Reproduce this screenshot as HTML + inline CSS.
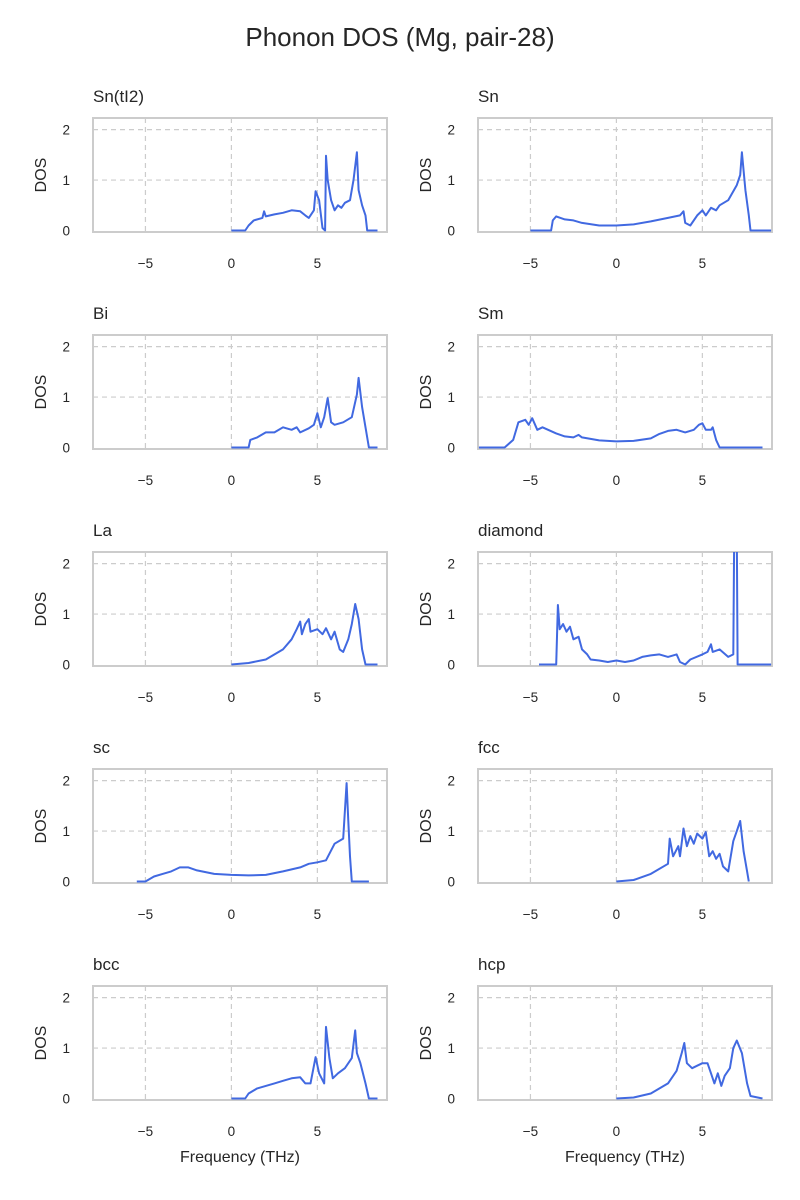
<!DOCTYPE html>
<html><head><meta charset="utf-8">
<style>
body{margin:0;background:#fff;}
svg{display:block;font-family:"Liberation Sans","DejaVu Sans",sans-serif;}
</style></head>
<body>
<svg id="fig" width="800" height="1200" viewBox="0 0 800 1200">
<text x="400" y="46" text-anchor="middle" font-size="26" fill="#262626">Phonon DOS (Mg, pair-28)</text>
</svg>
<script>
const panelNames = ["Sn(tI2)","Sn","Bi","Sm","La","diamond","sc","fcc","bcc","hcp"];
const xTicks = [-5,0,5];
const xTickLabels = ["\u22125","0","5"];
const yTicks = [0,1,2];
const yTickLabels = ["0","1","2"];
const freqSnTI2 = [0,0.8,1.0,1.3,1.8,1.9,2.0,2.5,3,3.5,4,4.3,4.5,4.8,4.9,5.1,5.3,5.45,5.5,5.6,5.8,6.0,6.2,6.4,6.6,6.9,7.1,7.3,7.4,7.6,7.8,7.9,8.5];
const dosSnTI2 = [0,0,0.1,0.2,0.25,0.38,0.28,0.32,0.35,0.4,0.38,0.3,0.25,0.4,0.78,0.6,0.05,0,1.48,1.0,0.6,0.4,0.5,0.45,0.55,0.6,1.0,1.55,0.8,0.5,0.3,0,0];
const freqSn = [-5,-3.8,-3.7,-3.5,-3,-2.5,-2,-1,0,1,2,3,3.7,3.9,4,4.3,4.7,5,5.2,5.5,5.8,6,6.5,7,7.2,7.3,7.5,7.7,7.8,9];
const dosSn = [0,0,0.2,0.28,0.22,0.2,0.15,0.1,0.1,0.12,0.18,0.25,0.3,0.38,0.15,0.1,0.3,0.4,0.3,0.45,0.4,0.5,0.6,0.9,1.1,1.55,0.8,0.3,0,0];
const freqBi = [0,1,1.1,1.5,2,2.5,3,3.5,3.8,4,4.5,4.8,5,5.2,5.4,5.6,5.8,6,6.5,7,7.3,7.4,7.6,7.8,8,8.5];
const dosBi = [0,0,0.15,0.2,0.3,0.3,0.4,0.35,0.4,0.3,0.38,0.45,0.68,0.4,0.6,0.98,0.5,0.45,0.5,0.6,1.05,1.38,0.8,0.4,0,0];
const freqSm = [-8,-6.5,-6,-5.7,-5.3,-5.1,-4.9,-4.6,-4.3,-3.5,-3,-2.5,-2.2,-2,-1,0,1,2,2.5,3,3.5,4,4.5,4.8,5,5.2,5.5,5.6,5.8,6,8.5];
const dosSm = [0,0,0.15,0.5,0.55,0.45,0.58,0.35,0.4,0.28,0.22,0.2,0.25,0.2,0.14,0.12,0.13,0.18,0.27,0.33,0.35,0.3,0.35,0.45,0.48,0.35,0.35,0.4,0.15,0,0];
const freqLa = [0,1,2,3,3.5,3.8,4,4.1,4.3,4.5,4.6,5,5.3,5.5,5.8,6,6.3,6.5,6.8,7,7.2,7.4,7.6,7.8,8.5];
const dosLa = [0,0.03,0.1,0.3,0.5,0.7,0.85,0.6,0.8,0.9,0.65,0.7,0.6,0.72,0.5,0.65,0.3,0.25,0.5,0.8,1.2,0.9,0.3,0,0];
const freqDiamond = [-4.5,-3.5,-3.4,-3.3,-3.1,-2.9,-2.7,-2.5,-2.2,-2,-1.7,-1.5,-1,-0.5,0,0.5,1,1.5,2,2.5,3,3.5,3.7,4,4.3,5,5.3,5.5,5.6,6,6.5,6.8,6.85,7.0,7.05,9];
const dosDiamond = [0,0,1.18,0.7,0.8,0.65,0.75,0.5,0.55,0.3,0.2,0.1,0.08,0.05,0.08,0.05,0.08,0.15,0.18,0.2,0.15,0.2,0.05,0,0.1,0.2,0.25,0.4,0.25,0.3,0.15,0.2,2.6,2.6,0,0];
const freqSc = [-5.5,-5,-4.5,-4,-3.5,-3,-2.5,-2,-1,0,1,2,3,4,4.5,5,5.5,6,6.5,6.7,6.8,6.9,7.0,8];
const dosSc = [0,0,0.1,0.15,0.2,0.28,0.28,0.22,0.15,0.13,0.12,0.13,0.2,0.28,0.35,0.38,0.42,0.75,0.85,1.95,1.2,0.5,0,0];
const freqFcc = [0,1,2,3,3.1,3.3,3.6,3.7,3.9,4.1,4.3,4.5,4.7,5,5.2,5.4,5.6,5.8,6,6.2,6.5,6.8,7.0,7.2,7.4,7.6,7.7];
const dosFcc = [0,0.03,0.15,0.35,0.85,0.5,0.7,0.5,1.05,0.7,0.9,0.75,0.95,0.85,0.98,0.5,0.6,0.45,0.55,0.3,0.2,0.8,1.0,1.2,0.6,0.2,0];
const freqBcc = [0,0.8,1,1.5,2,2.5,3,3.5,4,4.3,4.6,4.9,5.1,5.4,5.5,5.7,5.9,6.2,6.6,7.0,7.2,7.3,7.5,7.8,8,8.5];
const dosBcc = [0,0,0.1,0.2,0.25,0.3,0.35,0.4,0.42,0.3,0.3,0.82,0.5,0.3,1.42,0.8,0.4,0.5,0.6,0.8,1.35,0.9,0.7,0.3,0,0];
const freqHcp = [0,1,2,3,3.5,3.8,3.95,4.1,4.4,4.7,5,5.3,5.5,5.7,5.9,6.1,6.3,6.6,6.8,7,7.3,7.6,7.8,8.5];
const dosHcp = [0,0.02,0.1,0.3,0.55,0.9,1.1,0.7,0.6,0.65,0.7,0.7,0.5,0.3,0.5,0.25,0.45,0.6,1.0,1.15,0.9,0.3,0.05,0];
const seriesFreq = [freqSnTI2,freqSn,freqBi,freqSm,freqLa,freqDiamond,freqSc,freqFcc,freqBcc,freqHcp];
const seriesDos = [dosSnTI2,dosSn,dosBi,dosSm,dosLa,dosDiamond,dosSc,dosFcc,dosBcc,dosHcp];

const NS="http://www.w3.org/2000/svg";
const svg=document.getElementById('fig');
function mk(tag,attrs,parent){const e=document.createElementNS(NS,tag);for(const k in attrs)e.setAttribute(k,attrs[k]);(parent||svg).appendChild(e);return e;}
const colX=[93,478], W=294, rowY=[118,335,552,769,986], H=114;
const xMin=-8.05, xMax=9.05, yMin=0, yMax=2.23;
panelNames.forEach((name,i)=>{
  const c=i%2, r=Math.floor(i/2);
  const x0=colX[c], y0=rowY[r];
  const sx=v=>x0+(v-xMin)/(xMax-xMin)*W;
  const sy=v=>y0+H-1.5-(v-yMin)/(yMax-yMin)*(H-1.5);
  const g=mk('g',{});
  
  
  const cp=mk('clipPath',{id:'cp'+i},g);
  mk('rect',{x:x0,y:y0,width:W,height:H},cp);
  xTicks.forEach((t,k)=>{
    const gl=mk('line',{x1:sx(t),x2:sx(t),y1:y0,y2:y0+H,stroke:'#cccccc','stroke-dasharray':'5,4','stroke-width':1.2},g);
    
    
    const tl=mk('text',{x:sx(t),y:y0+H+36,'text-anchor':'middle','font-size':13.5,fill:'#262626'},g);
    tl.textContent=xTickLabels[k];
    
    
  });
  yTicks.forEach((t,k)=>{
    if(t>0){
      const gl=mk('line',{x1:x0,x2:x0+W,y1:sy(t),y2:sy(t),stroke:'#cccccc','stroke-dasharray':'5,4','stroke-width':1.2},g);
      
      
    }
    const tl=mk('text',{x:x0-23,y:sy(t)+5,'text-anchor':'end','font-size':13.5,fill:'#262626'},g);
    tl.textContent=yTickLabels[k];
    
    
  });
  const fr=mk('rect',{x:x0,y:y0,width:W,height:H,fill:'none',stroke:'#cccccc','stroke-width':2},g);
  
  
  const d=seriesFreq[i].map((f,k)=>(k?'L':'M')+sx(f).toFixed(1)+','+sy(seriesDos[i][k]).toFixed(1)).join('');
  const p=mk('path',{d:d,fill:'none',stroke:'#4169e1','stroke-width':2,'stroke-linejoin':'round','clip-path':'url(#cp'+i+')'},g);
  
  
  const tt=mk('text',{x:x0,y:y0-16,'font-size':17,fill:'#262626'},g);
  tt.textContent=name;
  
  
  const yl=mk('text',{x:0,y:0,'font-size':16,fill:'#262626','text-anchor':'middle',transform:'translate('+(x0-47)+','+(y0+H/2)+') rotate(-90)'},g);
  yl.textContent='DOS';
  
  
  if(r===4){
    const xl=mk('text',{x:x0+W/2,y:y0+H+62,'font-size':16,fill:'#262626','text-anchor':'middle'},g);
    xl.textContent='Frequency (THz)';
    
    
  }
});
</script>
</body></html>
